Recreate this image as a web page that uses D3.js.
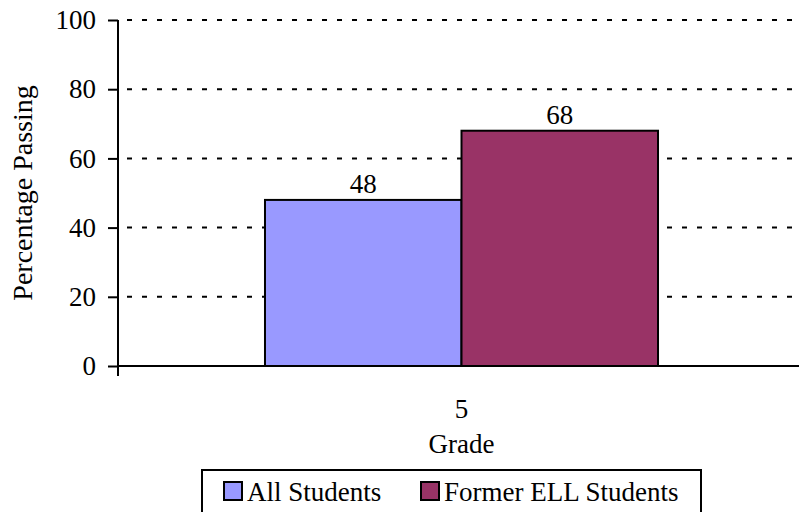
<!DOCTYPE html>
<meta charset="utf-8">
<style>
  body { margin: 0; background: #fff; }
  svg text { font-family: "Liberation Serif", Tinos, "Times New Roman", "DejaVu Serif", serif !important; fill: #000; }
</style>
<body>
<div class="chart"></div>
<script src="https://d3js.org/d3.v7.min.js"></script>
<script>
    const grades = ["5"];
    const series = ["All Students", "Former ELL Students"];
    const colors = ["#9999ff", "#993366"];
    const values = [[48, 68]];   // one row per grade
    const yTicks = [0, 20, 40, 60, 80, 100];

    const width = 799, height = 512;
    const margin = {top: 20, right: -6, bottom: 146, left: 118};
    const fs = 27;

    const svg = d3.select(".chart").append("svg")
        .attr("width", width)
        .attr("height", height);

    let x = d3.scaleBand()
        .domain(grades)
        .range([margin.left, width - margin.right])
        .paddingInner(0)
        .paddingOuter(0.374);
    let xs = d3.scaleBand().domain(series).range([0, x.bandwidth()]);
    let y = d3.scaleLinear()
        .domain([0, 100])
        .range([height - margin.bottom, margin.top]);

    // dashed gridlines
    svg.append("g")
        .selectAll("line")
        .data(yTicks.filter(d => d > 0))
        .join("line")
            .attr("x1", margin.left)
            .attr("x2", width)
            .attr("y1", d => y(d))
            .attr("y2", d => y(d))
            .attr("stroke", "#000")
            .attr("stroke-width", 2)
            .attr("stroke-dasharray", "5,10")
            .attr("stroke-dashoffset", -9);

    // bars
    const groups = svg.append("g")
        .selectAll("g")
        .data(grades)
        .join("g")
            .attr("transform", d => `translate(${x(d)},0)`);
    groups.selectAll("rect")
        .data((d, i) => values[i].map((v, j) => ({s: series[j], v, c: colors[j]})))
        .join("rect")
            .attr("x", d => xs(d.s))
            .attr("width", xs.bandwidth())
            .attr("y", d => y(d.v))
            .attr("height", d => y(0) - y(d.v))
            .attr("fill", d => d.c)
            .attr("stroke", "#000")
            .attr("stroke-width", 2);
    groups.selectAll("text")
        .data((d, i) => values[i].map((v, j) => ({s: series[j], v})))
        .join("text")
            .attr("x", d => xs(d.s) + xs.bandwidth() / 2)
            .attr("y", d => y(d.v) - 7)
            .attr("text-anchor", "middle")
            .attr("font-size", fs)
            .text(d => d.v);

    // y axis
    let yAxis = g => g
        .attr("transform", `translate(${margin.left},0)`)
        .call(d3.axisLeft(y).tickValues(yTicks).tickSize(10).tickSizeOuter(0).tickPadding(12))
        .call(g => g.select(".domain").attr("stroke-width", 2)
            .attr("d", `M0,${margin.top}V${y(0) + 10}`))
        .call(g => g.selectAll(".tick line").attr("stroke-width", 2))
        .call(g => g.selectAll(".tick text").attr("font-size", fs));
    svg.append("g").call(yAxis);

    // x axis
    let xAxis = g => g
        .attr("transform", `translate(0,${y(0)})`)
        .call(d3.axisBottom(x).tickSize(0).tickPadding(33))
        .call(g => g.select(".domain").attr("stroke-width", 2)
            .attr("d", `M${margin.left},0H${width}`))
        .call(g => g.selectAll(".tick text").attr("font-size", fs));
    svg.append("g").call(xAxis);

    svg.append("text")
        .attr("x", x("5") + x.bandwidth() / 2)
        .attr("y", 453)
        .attr("text-anchor", "middle")
        .attr("font-size", fs)
        .text("Grade");

    svg.append("text")
        .attr("transform", `translate(32,${(y(0) + y(100)) / 2}) rotate(-90)`)
        .attr("text-anchor", "middle")
        .attr("font-size", 28)
        .text("Percentage Passing");

    // legend
    const legend = svg.append("g");
    legend.append("rect")
        .attr("x", 202).attr("y", 470)
        .attr("width", 499).attr("height", 60)
        .attr("fill", "#fff")
        .attr("stroke", "#000")
        .attr("stroke-width", 2);
    const legX = [224, 421];
    const items = legend.selectAll("g.item")
        .data(series)
        .join("g")
            .attr("class", "item")
            .attr("transform", (d, i) => `translate(${legX[i]},482)`);
    items.append("rect")
        .attr("width", 18).attr("height", 18)
        .attr("fill", (d, i) => colors[i])
        .attr("stroke", "#000")
        .attr("stroke-width", 2);
    items.append("text")
        .attr("x", 23)
        .attr("y", 19)
        .attr("font-size", fs)
        .text(d => d);
</script>
</body>
